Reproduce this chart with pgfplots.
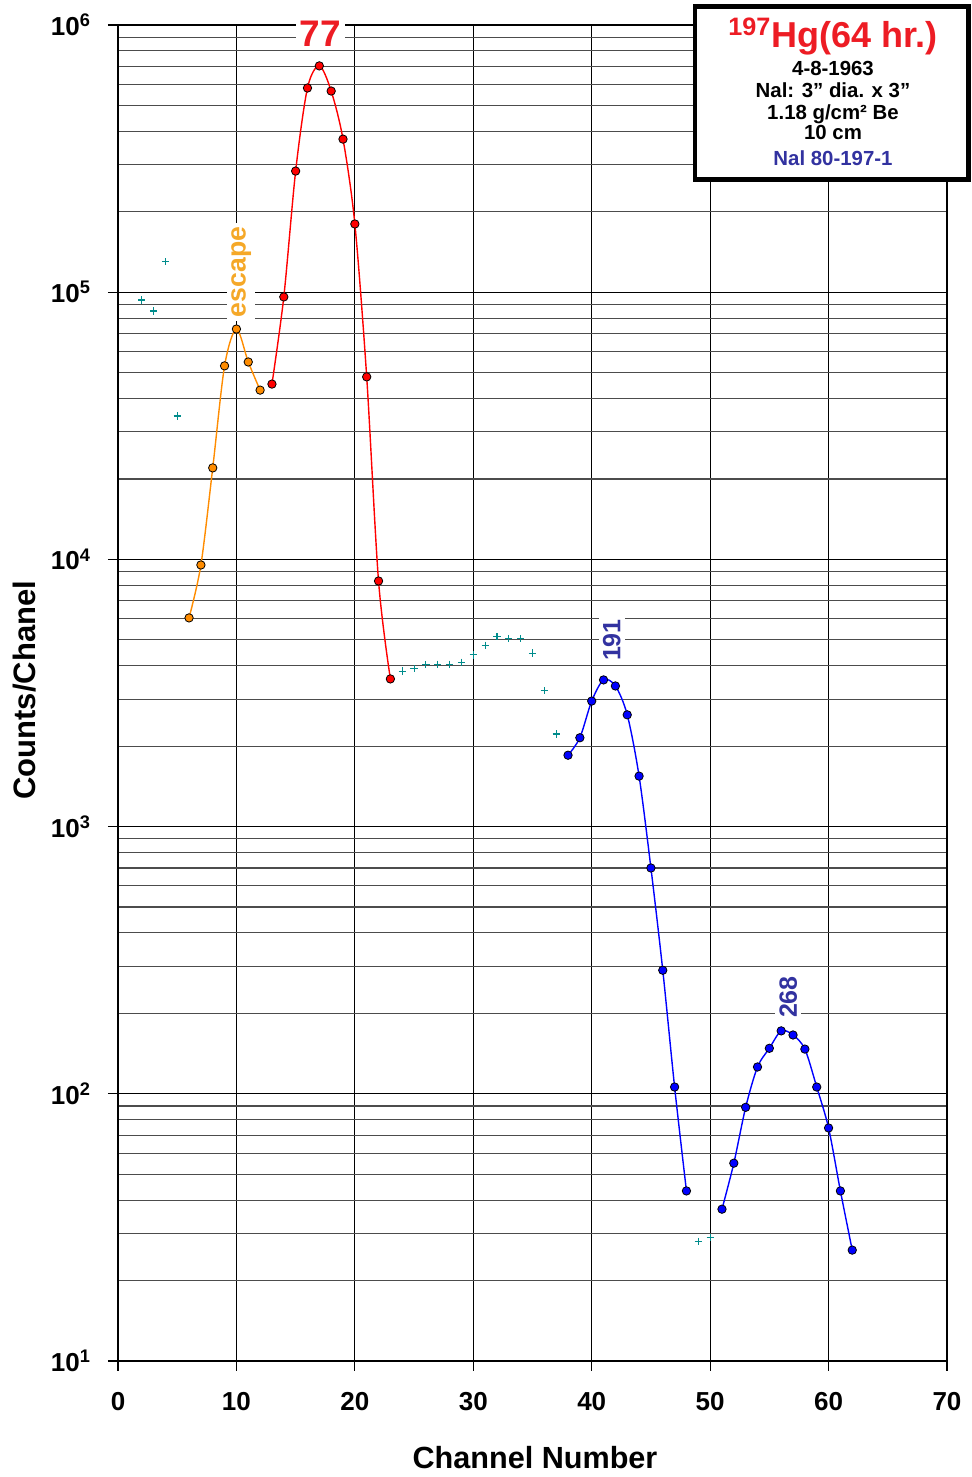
\documentclass[border=0pt]{standalone}
\usepackage{pgfplots}
\pgfplotsset{compat=1.18}
\usepackage{fontspec}
\setmainfont{Liberation Sans}
\definecolor{myorange}{RGB}{255,140,0}
\definecolor{labelorange}{RGB}{245,168,40}
\definecolor{myred}{RGB}{255,0,0}
\definecolor{titlered}{RGB}{237,28,36}
\definecolor{myblue}{RGB}{0,0,255}
\definecolor{navy}{RGB}{50,50,160}
\definecolor{teal2}{RGB}{0,140,140}
\begin{document}
\begin{tikzpicture}[x=1pt,y=1pt]
\begin{axis}[
  at={(0,0)}, anchor=south west,
  scale only axis, width=414.5pt, height=668pt,
  xmin=0, xmax=70, ymode=log, ymin=10, ymax=1e6,
  clip=false,
  xtick={0,10,20,30,40,50,60,70},
  xticklabels={0,10,20,30,40,50,60,70},
  ytick={10,100,1000,10000,100000,1000000},
  yticklabels={10\textsuperscript{1},10\textsuperscript{2},10\textsuperscript{3},10\textsuperscript{4},10\textsuperscript{5},10\textsuperscript{6}},
  minor ytick={20,30,40,50,60,70,80,90,200,300,400,500,600,700,800,900,2000,3000,4000,5000,6000,7000,8000,9000,2e4,3e4,4e4,5e4,6e4,7e4,8e4,9e4,2e5,3e5,4e5,5e5,6e5,7e5,8e5,9e5},
  xmajorgrids, ymajorgrids, yminorgrids,
  major grid style={black, line width=0.6pt},
  minor grid style={black!70, line width=0.55pt},
  tick align=outside, major tick length=5pt, minor tick length=0pt,
  xtick pos=bottom, ytick pos=left,
  tick style={black, line width=0.6pt},
  axis line style={black, line width=0.6pt},
  ticklabel style={font=\fontsize{13}{15}\selectfont\bfseries},
  xticklabel style={anchor=center, yshift=-15.5pt},
  yticklabel style={anchor=east, xshift=-5pt},
  xlabel={Channel Number},
  ylabel={Counts/Chanel},
  every axis x label/.style={at={(rel axis cs:0.503,0)}, anchor=center, yshift=-48.5pt, font=\fontsize{15.3}{17}\selectfont\bfseries},
  every axis y label/.style={at={(rel axis cs:0,0.502)}, anchor=center, xshift=-46.5pt, rotate=90, font=\fontsize{15.5}{17}\selectfont\bfseries},
]
% teal crosses
\addplot[only marks, mark=+, teal2, mark size=1.8pt, line width=0.55pt] coordinates {
 (2,93500) (3,85000) (4,130000) (5,34400)
 (24,3820) (25,3900) (26,4030) (27,4050) (28,4050) (29,4120) (30,4390)
 (31,4770) (32,5140) (33,5060) (34,5060) (35,4460) (36,3220) (37,2220)
 (49,28) (50,29)};
% escape peak
\addplot[myorange, line width=0.7pt, smooth, mark=*, mark size=2.1pt,
  mark options={fill=myorange, draw=black, line width=0.4pt}] coordinates {
 (6,6040) (7,9530) (8,22000) (9,53000) (10,72800) (11,54800) (12,43000)};
% 77 peak
\addplot[myred, line width=0.7pt, smooth, mark=*, mark size=2.1pt,
  mark options={fill=myred, draw=black, line width=0.4pt}] coordinates {
 (13,45300) (14,96000) (15,284000) (16,581000) (17,703000) (18,566000)
 (19,374000) (20,180000) (21,48200) (22,8300) (23,3570)};
% 191 peak
\addplot[myblue, line width=0.7pt, smooth, mark=*, mark size=2.1pt,
  mark options={fill=myblue, draw=black, line width=0.4pt}] coordinates {
 (38,1850) (39,2150) (40,2950) (41,3540) (42,3360) (43,2620) (44,1545)
 (45,700) (46,290) (47,106) (48,43.3)};
% 268 peak
\addplot[myblue, line width=0.7pt, smooth, mark=*, mark size=2.1pt,
  mark options={fill=myblue, draw=black, line width=0.4pt}] coordinates {
 (51,37) (52,55) (53,89) (54,126) (55,148) (56,172) (57,166) (58,147)
 (59,106) (60,74.5) (61,43.3) (62,26)};
% peak labels
\node[fill=white, inner sep=2pt, text=titlered, font=\fontsize{18.5}{20}\selectfont\bfseries] at (axis cs:17.1,9.3e5) {77};
\node[fill=white, inner sep=2pt, text=labelorange, rotate=90, font=\fontsize{13.3}{15}\selectfont\bfseries] at (axis cs:10.4,119000) {escape};
\node[fill=white, inner sep=2pt, text=navy, rotate=90, font=\fontsize{12.5}{14}\selectfont\bfseries] at (axis cs:41.7,4990) {191};
\node[fill=white, inner sep=2pt, text=navy, rotate=90, font=\fontsize{12.5}{14}\selectfont\bfseries] at (axis cs:56.6,230) {268};
\end{axis}
% info box
\draw[line width=2.2pt, fill=white] (288.5,590.75) rectangle (425.25,677.25);
\node[anchor=base, text=titlered, font=\fontsize{18}{20}\selectfont\bfseries] at (357.5,656.6) {\textsuperscript{197}Hg(64 hr.)};
\node[anchor=base, font=\fontsize{10.2}{12}\selectfont\bfseries] at (357.5,642.5) {4-8-1963};
\node[anchor=base, font=\fontsize{10.2}{12}\selectfont\bfseries] at (357.5,631.7) {Nal: 3” dia. x 3”};
\node[anchor=base, font=\fontsize{10.2}{12}\selectfont\bfseries] at (357.5,620.8) {1.18 g/cm² Be};
\node[anchor=base, font=\fontsize{10.2}{12}\selectfont\bfseries] at (357.5,610.5) {10 cm};
\node[anchor=base, text=navy, font=\fontsize{10.2}{12}\selectfont\bfseries] at (357.5,597.7) {Nal 80-197-1};
\pgfresetboundingbox
\useasboundingbox (-59,-58) rectangle (427,680.5);
\end{tikzpicture}
\end{document}
